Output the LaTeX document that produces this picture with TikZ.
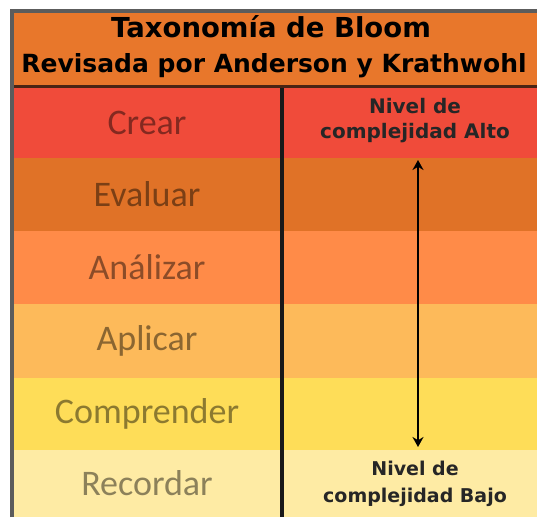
\documentclass[tikz,border=0pt]{standalone}
\usepackage{fontspec}
\setmainfont{Carlito}
\newfontfamily\headfont{DejaVu Sans}
\usetikzlibrary{positioning, arrows.meta}
\definecolor{frame}{HTML}{5c5c5c}
\definecolor{rule}{HTML}{4a2414}
\definecolor{header}{HTML}{E8772B}
\definecolor{crear}{HTML}{F04B3A}
\definecolor{evaluar}{HTML}{E07227}
\definecolor{analizar}{HTML}{FF8B48}
\definecolor{aplicar}{HTML}{FDBA5A}
\definecolor{comprender}{HTML}{FEDD58}
\definecolor{recordar}{HTML}{FEEBA4}

\begin{document}
\begin{tikzpicture}[x=1pt, y=1pt,
  level/.style={font=\fontsize{36}{40}\selectfont},
  note/.style={font=\headfont\bfseries\fontsize{20}{25}\selectfont, align=center, text=black!85}
]
  \useasboundingbox (0,0) rectangle (537,517);
  \fill[header] (10,430) rectangle (537,506);
  \node[anchor=base, font=\headfont\bfseries\fontsize{27.5}{30}\selectfont] (title) at (271,479) {Taxonomía de Bloom};
  \node[anchor=base, font=\headfont\bfseries\fontsize{25}{30}\selectfont] (subtitle) at (274,444) {Revisada por Anderson y Krathwohl};

  % niveles
  \foreach \lbl/\col/\top/\bot [count=\i] in {Crear/crear/429/359, Evaluar/evaluar/359/286,
      Análizar/analizar/286/213, Aplicar/aplicar/213/139, Comprender/comprender/139/67,
      Recordar/recordar/67/0} {
    \fill[\col] (10,\bot) rectangle (537,\top);
    \node[level, text=\col!55!black] (lvl\i) at (147,{(\top+\bot)/2}) {\lbl};
  }

  \draw[rule, line width=3pt] (10,430) -- (537,430);
  \draw[frame, line width=4pt] (12,0) -- (12,505.5) -- (537,505.5);
  \draw[black!90, line width=3.5pt] (282,429) -- (282,0);

  \node[note] (alto) at (415,396) {Nivel de\\complejidad Alto};
  \node[note, font=\headfont\bfseries\fontsize{19}{27}\selectfont] (bajo) at (415,33) {Nivel de\\complejidad Bajo};
  \coordinate (hi) at (418,357);
  \coordinate (lo) at (418,70);
  \draw[{Stealth[length=10pt,width=11pt]}-{Stealth[length=10pt,width=11pt]}, line width=2.6pt] (hi) -- (lo);
\end{tikzpicture}
\end{document}
